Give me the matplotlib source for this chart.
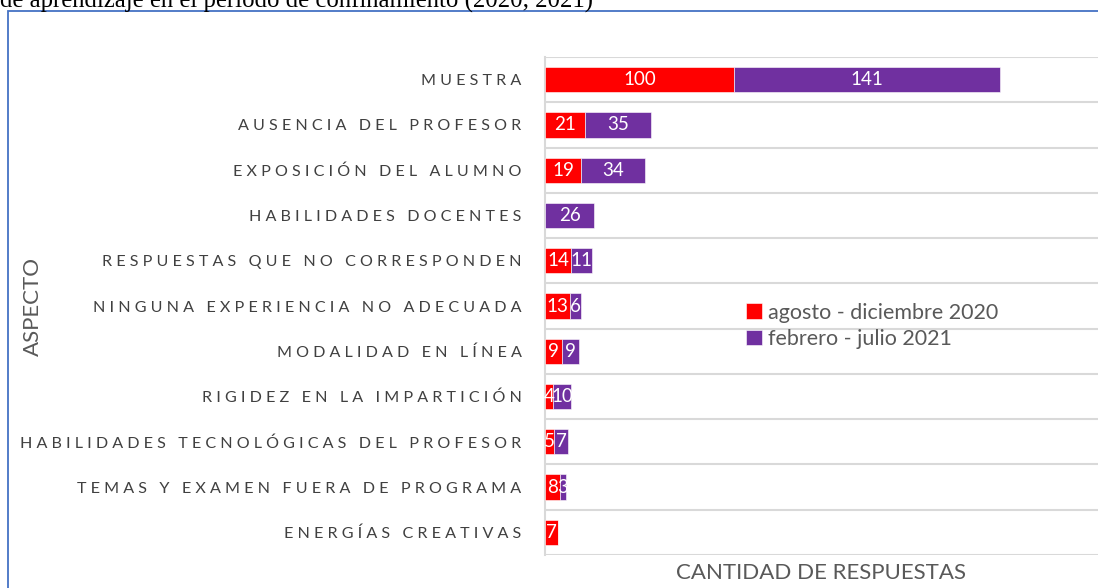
import matplotlib
matplotlib.use("Agg")
import matplotlib.pyplot as plt
from matplotlib.patches import Rectangle
import numpy as np

# DATA
aspectos = [
    "MUESTRA",
    "AUSENCIA DEL PROFESOR",
    "EXPOSICIÓN DEL ALUMNO",
    "HABILIDADES DOCENTES",
    "RESPUESTAS QUE NO CORRESPONDEN",
    "NINGUNA EXPERIENCIA NO ADECUADA",
    "MODALIDAD EN LÍNEA",
    "RIGIDEZ EN LA IMPARTICIÓN",
    "HABILIDADES TECNOLÓGICAS DEL PROFESOR",
    "TEMAS Y EXAMEN FUERA DE PROGRAMA",
    "ENERGÍAS CREATIVAS",
]
ago_dic_2020 = [100, 21, 19, 0, 14, 13, 9, 4, 5, 8, 7]
feb_jul_2021 = [141, 35, 34, 26, 11, 6, 9, 10, 7, 3, 0]
series_names = ["agosto - diciembre 2020", "febrero - julio 2021"]

# STYLE
RED    = "#FF0000"
PURPLE = "#7030A0"
GRID   = "#D9D9D9"
TEXT   = "#595959"
BORDER = "#4472C4"

plt.rcParams["font.family"] = ["Lato", "DejaVu Sans"]


def spaced(s):
    # Excel-style letter spacing on the category labels
    return " ".join(list(s))


fig = plt.figure(figsize=(10.98, 5.88), dpi=100)
W, H = 1098, 588
ax = fig.add_axes([545 / W, 1 - 555 / H, 1 - 545 / W, (555 - 57) / H])

y = np.arange(len(aspectos))
h = 0.56
b1 = ax.barh(y, ago_dic_2020, height=h, color=RED, edgecolor="white", linewidth=0.4,
             label=series_names[0], zorder=3)
b2 = ax.barh(y, feb_jul_2021, left=ago_dic_2020, height=h, color=PURPLE, edgecolor="white",
             linewidth=0.4, label=series_names[1], zorder=3)

for bars, vals in ((b1, ago_dic_2020), (b2, feb_jul_2021)):
    labels = [str(v) if v > 0 else "" for v in vals]
    ax.bar_label(bars, labels=labels, label_type="center", color="white", fontsize=13.5)

ax.set_ylim(len(aspectos) - 0.5, -0.5)
ax.set_xlim(0, 292.6)
ax.set_yticks(y)
ax.set_yticklabels([spaced(a) for a in aspectos], color="#404040", fontsize=11.6)
ax.set_yticks(np.arange(len(aspectos) + 1) - 0.5, minor=True)
ax.tick_params(axis="y", which="both", length=0, pad=17)
ax.set_xticks([])
ax.grid(axis="y", which="minor", color=GRID, linewidth=1.5, zorder=0)
for side in ("top", "right", "bottom"):
    ax.spines[side].set_visible(False)
ax.spines["left"].set_color(GRID)
ax.spines["left"].set_linewidth(1.5)

ax.set_xlabel("CANTIDAD DE RESPUESTAS", color=TEXT, fontsize=16, labelpad=6)
fig.text(33 / W, 1 - 306 / H, "ASPECTO", rotation=90, color=TEXT, fontsize=16,
         ha="center", va="center")

leg = ax.legend(loc="upper left", bbox_to_anchor=((737 - 545) / (W - 545), (555 - 294) / (555 - 57)),
                frameon=False, fontsize=15.5, handlelength=0.75, handleheight=0.75,
                handletextpad=0.3, labelspacing=0.3, borderaxespad=0)
for t in leg.get_texts():
    t.set_color(TEXT)

# chart border and clipped caption above it
fig.patches.append(Rectangle((8 / W, -0.1), 1.2, 1 - 11 / H + 0.1, transform=fig.transFigure,
                             fill=False, edgecolor=BORDER, linewidth=1.3))
fig.text(0, 1 - 8 / H, "de aprendizaje en el período de confinamiento (2020, 2021)",
         family="Liberation Serif", fontsize=17.8, color="black", va="baseline", ha="left")

fig.savefig("out.png", dpi=100)
